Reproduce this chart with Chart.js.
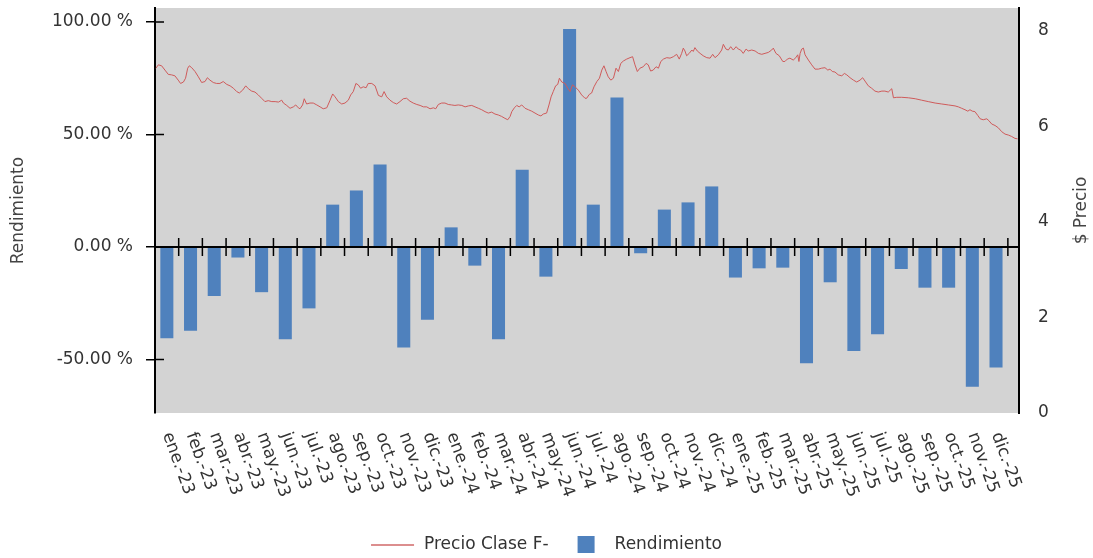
<!DOCTYPE html>
<html lang="es">
<head>
<meta charset="UTF-8">
<title>Rendimiento y Precio Clase F</title>
<script src="https://cdn.jsdelivr.net/npm/chart.js"></script>
<style>
  html, body { margin: 0; padding: 0; background: #fff; overflow: hidden; }
  #wrap { width: 1093px; height: 558px; }
</style>
</head>
<body>
<div id="wrap"><canvas id="chart"></canvas></div>
<script>
// categorias mensuales
const meses = [
  'ene.-23', 'feb.-23', 'mar.-23', 'abr.-23', 'may.-23', 'jun.-23',
  'jul.-23', 'ago.-23', 'sep.-23', 'oct.-23', 'nov.-23', 'dic.-23',
  'ene.-24', 'feb.-24', 'mar.-24', 'abr.-24', 'may.-24', 'jun.-24',
  'jul.-24', 'ago.-24', 'sep.-24', 'oct.-24', 'nov.-24', 'dic.-24',
  'ene.-25', 'feb.-25', 'mar.-25', 'abr.-25', 'may.-25', 'jun.-25',
  'jul.-25', 'ago.-25', 'sep.-25', 'oct.-25', 'nov.-25', 'dic.-25'
];

// rendimiento mensual (%)
const rendimiento = [
  -40.6, -37.2, -21.8, -4.7, -20.1, -41.0, -27.3, 18.8, 25.1, 36.7, -44.7, -32.4,
  8.7, -8.3, -41.0, 34.3, -13.2, 96.9, 18.8, 66.4, -2.8, 16.6, 19.8, 26.9,
  -13.6, -9.5, -9.2, -51.7, -15.7, -46.2, -38.8, -9.8, -18.1, -18.1, -62.1, -53.6
];

// precio: [meses desde ene-23, $]
const precio = [
  [0.04, 7.22], [0.14, 7.29], [0.28, 7.27], [0.42, 7.18], [0.56, 7.09], [0.70, 7.08],
  [0.84, 7.06], [0.98, 6.97], [1.08, 6.90], [1.20, 6.93], [1.29, 7.01], [1.38, 7.22],
  [1.45, 7.27], [1.55, 7.23], [1.69, 7.15], [1.83, 7.04], [1.97, 6.92], [2.11, 6.94],
  [2.21, 7.02], [2.32, 6.97], [2.46, 6.92], [2.60, 6.90], [2.74, 6.90], [2.88, 6.94],
  [3.03, 6.88], [3.17, 6.85], [3.31, 6.80], [3.45, 6.73], [3.56, 6.70], [3.70, 6.76],
  [3.83, 6.85], [3.94, 6.79], [4.08, 6.74], [4.22, 6.72], [4.36, 6.66], [4.50, 6.59],
  [4.64, 6.52], [4.78, 6.54], [4.93, 6.52], [5.07, 6.52], [5.21, 6.51], [5.35, 6.55],
  [5.42, 6.49], [5.56, 6.44], [5.70, 6.38], [5.84, 6.41], [5.94, 6.45], [6.05, 6.39],
  [6.12, 6.37], [6.23, 6.45], [6.30, 6.58], [6.40, 6.47], [6.54, 6.49], [6.68, 6.49],
  [6.83, 6.45], [6.97, 6.41], [7.10, 6.37], [7.25, 6.39], [7.39, 6.55], [7.50, 6.68],
  [7.60, 6.62], [7.74, 6.52], [7.88, 6.47], [8.02, 6.49], [8.16, 6.55], [8.26, 6.66],
  [8.37, 6.73], [8.48, 6.90], [8.58, 6.87], [8.68, 6.80], [8.79, 6.83], [8.91, 6.81],
  [9.00, 6.90], [9.15, 6.90], [9.29, 6.85], [9.43, 6.65], [9.57, 6.62], [9.67, 6.73],
  [9.78, 6.62], [9.92, 6.55], [10.06, 6.50], [10.20, 6.47], [10.34, 6.52], [10.48, 6.58],
  [10.62, 6.59], [10.76, 6.53], [10.90, 6.49], [11.05, 6.46], [11.19, 6.44], [11.33, 6.41],
  [11.47, 6.41], [11.61, 6.37], [11.75, 6.39], [11.85, 6.37], [11.96, 6.46], [12.10, 6.49],
  [12.24, 6.49], [12.38, 6.46], [12.52, 6.45], [12.66, 6.44], [12.80, 6.45], [12.95, 6.44],
  [13.09, 6.41], [13.23, 6.43], [13.37, 6.44], [13.51, 6.41], [13.65, 6.38], [13.79, 6.35],
  [13.93, 6.31], [14.07, 6.28], [14.21, 6.30], [14.35, 6.26], [14.49, 6.24], [14.63, 6.21],
  [14.77, 6.17], [14.89, 6.14], [14.99, 6.21], [15.06, 6.31], [15.17, 6.39], [15.27, 6.44],
  [15.37, 6.41], [15.48, 6.45], [15.62, 6.38], [15.76, 6.35], [15.90, 6.32], [16.04, 6.28],
  [16.18, 6.24], [16.29, 6.22], [16.39, 6.26], [16.53, 6.28], [16.63, 6.45], [16.72, 6.62],
  [16.81, 6.73], [16.91, 6.85], [17.00, 6.88], [17.07, 7.01], [17.17, 6.93], [17.31, 6.90],
  [17.42, 6.80], [17.52, 6.73], [17.62, 6.87], [17.73, 6.83], [17.87, 6.76], [18.01, 6.66],
  [18.15, 6.59], [18.22, 6.59], [18.33, 6.67], [18.43, 6.70], [18.53, 6.83], [18.65, 6.94],
  [18.76, 7.01], [18.86, 7.18], [18.95, 7.27], [19.04, 7.15], [19.13, 7.04], [19.24, 6.97],
  [19.35, 7.01], [19.46, 7.22], [19.56, 7.15], [19.66, 7.32], [19.77, 7.37], [19.91, 7.41],
  [20.05, 7.44], [20.16, 7.46], [20.26, 7.29], [20.36, 7.15], [20.47, 7.22], [20.61, 7.25],
  [20.73, 7.32], [20.82, 7.29], [20.92, 7.16], [21.03, 7.18], [21.15, 7.25], [21.25, 7.22],
  [21.35, 7.36], [21.46, 7.41], [21.60, 7.44], [21.74, 7.43], [21.88, 7.46], [22.02, 7.51],
  [22.13, 7.41], [22.23, 7.53], [22.30, 7.64], [22.37, 7.58], [22.44, 7.48], [22.55, 7.53],
  [22.66, 7.60], [22.72, 7.57], [22.79, 7.65], [22.89, 7.58], [23.01, 7.53], [23.14, 7.48],
  [23.29, 7.44], [23.43, 7.43], [23.54, 7.51], [23.64, 7.44], [23.78, 7.50], [23.92, 7.60],
  [23.99, 7.72], [24.10, 7.62], [24.20, 7.60], [24.30, 7.67], [24.41, 7.60], [24.53, 7.67],
  [24.62, 7.62], [24.72, 7.60], [24.83, 7.53], [24.95, 7.62], [25.04, 7.58], [25.19, 7.60],
  [25.33, 7.58], [25.47, 7.53], [25.61, 7.51], [25.75, 7.53], [25.89, 7.55], [26.03, 7.60],
  [26.10, 7.64], [26.21, 7.53], [26.35, 7.48], [26.50, 7.36], [26.59, 7.36], [26.69, 7.41],
  [26.80, 7.43], [26.94, 7.39], [27.05, 7.44], [27.13, 7.50], [27.18, 7.36], [27.23, 7.53],
  [27.30, 7.62], [27.37, 7.64], [27.44, 7.50], [27.58, 7.39], [27.72, 7.29], [27.86, 7.20],
  [28.00, 7.20], [28.14, 7.22], [28.28, 7.23], [28.40, 7.18], [28.49, 7.20], [28.59, 7.15],
  [28.70, 7.14], [28.84, 7.08], [28.99, 7.06], [29.10, 7.11], [29.20, 7.08], [29.34, 7.02],
  [29.48, 6.97], [29.62, 6.93], [29.76, 6.97], [29.87, 7.02], [29.97, 6.95], [30.11, 6.85],
  [30.25, 6.80], [30.39, 6.74], [30.53, 6.72], [30.68, 6.74], [30.81, 6.74], [30.95, 6.72],
  [31.10, 6.79], [31.17, 6.60], [31.31, 6.61], [31.52, 6.61], [31.80, 6.60], [32.09, 6.58],
  [32.36, 6.55], [32.64, 6.52], [32.93, 6.49], [33.21, 6.47], [33.49, 6.45], [33.77, 6.43],
  [33.91, 6.41], [34.05, 6.38], [34.19, 6.35], [34.31, 6.32], [34.40, 6.35], [34.50, 6.32],
  [34.61, 6.31], [34.73, 6.23], [34.83, 6.16], [34.96, 6.14], [35.11, 6.16], [35.20, 6.12],
  [35.32, 6.05], [35.46, 6.02], [35.60, 5.97], [35.74, 5.89], [35.88, 5.84], [36.02, 5.82],
  [36.16, 5.79], [36.30, 5.75], [36.41, 5.74]
];

const rendTicks = [-50, 0, 50, 100];
const precioTicks = [0, 2, 4, 6, 8];

const FONT = '"DejaVu Sans", Verdana, sans-serif';
const BAR_COLOR = '#4f81bd';
const LINE_COLOR = '#cf5b5b';

Chart.defaults.font.family = FONT;
Chart.defaults.font.size = 17;
Chart.defaults.color = '#333';

// fondo gris, linea del cero, etiquetas de meses, titulo derecho y leyenda
const decor = {
  id: 'decor',
  beforeDraw(chart) {
    const { ctx, chartArea: a } = chart;
    ctx.save();
    ctx.fillStyle = '#d3d3d3';
    ctx.fillRect(a.left, a.top, a.right - a.left, a.bottom - a.top);
    ctx.restore();
  },
  afterDraw(chart) {
    const { ctx, chartArea: a, scales } = chart;
    const x = scales.x, y = scales.y;
    const y0 = y.getPixelForValue(0);
    ctx.save();

    ctx.strokeStyle = '#000';
    ctx.lineWidth = 2;
    ctx.beginPath();
    ctx.moveTo(a.left, y0);
    ctx.lineTo(a.right, y0);
    ctx.stroke();

    ctx.lineWidth = 1.5;
    ctx.beginPath();
    for (let i = 1; i <= meses.length; i++) {
      const px = x.getPixelForValue(i);
      ctx.moveTo(px, y0 - 9);
      ctx.lineTo(px, y0 + 9);
    }
    rendTicks.forEach((v) => {
      const py = y.getPixelForValue(v);
      ctx.moveTo(a.left, py);
      ctx.lineTo(a.left + 9, py);
    });
    ctx.stroke();

    // etiquetas del eje x, giradas
    ctx.font = '17px ' + FONT;
    ctx.fillStyle = '#333';
    ctx.textAlign = 'left';
    ctx.textBaseline = 'middle';
    meses.forEach((m, i) => {
      ctx.save();
      ctx.translate(x.getPixelForValue(i + 0.5), a.bottom + 20);
      ctx.rotate((70 * Math.PI) / 180);
      ctx.fillText(m, 0, 0);
      ctx.restore();
    });

    // titulo del eje derecho
    ctx.save();
    ctx.fillStyle = '#444';
    ctx.textAlign = 'center';
    ctx.translate(a.right + 63, (a.top + a.bottom) / 2);
    ctx.rotate(-Math.PI / 2);
    ctx.fillText('$ Precio', 0, 0);
    ctx.restore();

    // leyenda
    const t1 = 'Precio Clase F-', t2 = 'Rendimiento';
    const w1 = ctx.measureText(t1).width, w2 = ctx.measureText(t2).width;
    const total = 43 + 10 + w1 + 29 + 17 + 20 + w2;
    let lx = (chart.width - total) / 2;
    const ly = 545;
    ctx.strokeStyle = '#dc8e8e';
    ctx.lineWidth = 2;
    ctx.beginPath();
    ctx.moveTo(lx, ly);
    ctx.lineTo(lx + 43, ly);
    ctx.stroke();
    lx += 53;
    ctx.fillStyle = '#333';
    ctx.fillText(t1, lx, ly);
    lx += w1 + 29;
    ctx.fillStyle = BAR_COLOR;
    ctx.fillRect(lx, ly - 9, 17, 17);
    lx += 37;
    ctx.fillStyle = '#333';
    ctx.fillText(t2, lx, ly);

    ctx.restore();
  }
};

const fitY = (width) => (s) => {
  s.width = width;
  s.paddingTop = 0;
  s.paddingBottom = 0;
};

new Chart(document.getElementById('chart'), {
  data: {
    datasets: [
      {
        type: 'line',
        label: 'Precio Clase F-',
        data: precio.map(([m, p]) => ({ x: m, y: p })),
        xAxisID: 'x',
        yAxisID: 'y1',
        borderColor: LINE_COLOR,
        borderWidth: 1,
        pointRadius: 0,
        tension: 0,
        order: 0
      },
      {
        type: 'bar',
        label: 'Rendimiento',
        data: rendimiento.map((v, i) => ({ x: i + 0.5, y: v })),
        xAxisID: 'x',
        yAxisID: 'y',
        backgroundColor: BAR_COLOR,
        barPercentage: 0.55,
        categoryPercentage: 1,
        order: 1
      }
    ]
  },
  options: {
    responsive: true,
    maintainAspectRatio: false,
    animation: false,
    layout: { padding: { top: 8, bottom: 145, left: 0, right: 0 } },
    plugins: { legend: { display: false }, tooltip: { enabled: false } },
    scales: {
      x: { type: 'linear', display: false, offset: false, min: 0, max: 36.47 },
      y: {
        position: 'left',
        min: -73.8,
        max: 106.2,
        afterBuildTicks: (s) => { s.ticks = rendTicks.map((v) => ({ value: v })); },
        afterFit: fitY(155),
        ticks: { padding: 13, color: '#333', callback: (v) => v.toFixed(2) + ' %' },
        grid: { display: true, drawOnChartArea: false, drawTicks: true, tickLength: 9, color: '#000', lineWidth: 1.5 },
        border: { display: true, color: '#000', width: 2 },
        title: { display: true, text: 'Rendimiento', color: '#444', padding: { top: 8, bottom: 0 } }
      },
      y1: {
        position: 'right',
        min: 0,
        max: 8.48,
        afterBuildTicks: (s) => { s.ticks = precioTicks.map((v) => ({ value: v })); },
        afterFit: fitY(74),
        ticks: { padding: 19, color: '#333' },
        grid: { display: false, drawTicks: false },
        border: { display: true, color: '#000', width: 2 }
      }
    }
  },
  plugins: [decor]
});
</script>
</body>
</html>
